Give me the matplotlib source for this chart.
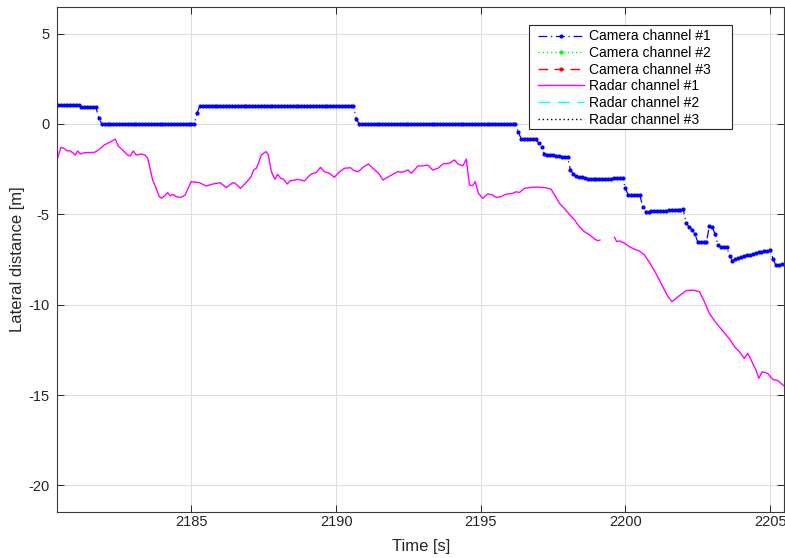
import numpy as np
import matplotlib
matplotlib.use("Agg")
import matplotlib.pyplot as plt
from matplotlib.patches import Rectangle

plt.rcParams['font.family'] = ['Liberation Sans', 'DejaVu Sans']
plt.rcParams['axes.unicode_minus'] = False

# ---------------- data ----------------
x_ticks = [2185, 2190, 2195, 2200, 2205]
y_ticks = [-20, -15, -10, -5, 0, 5]
x_limits = [2180.37, 2205.48]
y_limits = [-21.47, 6.49]

camera1_t0 = 2180.4
camera1_dt = 0.1
camera1_v = [
    1.05, 1.05, 1.05, 1.05, 1.05, 1.05, 1.05, 1.05,
    0.93, 0.93, 0.93, 0.93, 0.93, 0.93,
    0.33,
    0.0, 0.0, 0.0, 0.0, 0.0, 0.0, 0.0, 0.0, 0.0, 0.0, 0.0,
    0.0, 0.0, 0.0, 0.0, 0.0, 0.0, 0.0, 0.0, 0.0, 0.0, 0.0,
    0.0, 0.0, 0.0, 0.0, 0.0, 0.0, 0.0, 0.0, 0.0, 0.0, 0.0,
    0.63,
    1.02, 1.02, 1.02, 1.02, 1.02, 1.02, 1.02, 1.02, 1.02,
    1.02, 1.02, 1.02, 1.02, 1.02, 1.02, 1.02, 1.02, 1.02,
    1.02, 1.02, 1.02, 1.02, 1.02, 1.02, 1.02, 1.02, 1.02,
    1.01, 1.01, 1.01, 1.01, 1.01, 1.01, 1.01, 1.01, 1.01,
    1.01, 1.01, 1.01, 1.01, 1.01, 1.01, 1.01, 1.01, 1.01,
    1.00, 1.00, 1.00, 1.00, 1.00, 1.00, 1.00, 1.00, 1.00,
    0.28,
    0.0, 0.0, 0.0, 0.0, 0.0, 0.0, 0.0, 0.0, 0.0, 0.0, 0.0,
    0.0, 0.0, 0.0, 0.0, 0.0, 0.0, 0.0, 0.0, 0.0, 0.0, 0.0,
    0.0, 0.0, 0.0, 0.0, 0.0, 0.0, 0.0, 0.0, 0.0, 0.0, 0.0,
    0.0, 0.0, 0.0, 0.0, 0.0, 0.0, 0.0, 0.0, 0.0, 0.0, 0.0,
    0.0, 0.0, 0.0, 0.0, 0.0, 0.0, 0.0, 0.0, 0.0, 0.0, 0.0,
    -0.45,
    -0.83, -0.83, -0.83, -0.83, -0.83, -0.83,
    -1.07, -1.26,
    -1.68, -1.70, -1.72, -1.74, -1.76, -1.78, -1.80, -1.82, -1.85,
    -2.55, -2.75,
    -2.86, -2.92, -2.96, -3.00, -3.03,
    -3.05, -3.05, -3.04, -3.04, -3.03, -3.03, -3.02, -3.02, -3.01, -3.01, -3.00, -3.00,
    -3.55,
    -3.94, -3.94, -3.94, -3.94, -3.94,
    -4.58,
    -4.86, -4.85, -4.84, -4.83, -4.82, -4.81, -4.80, -4.79, -4.78, -4.77, -4.76, -4.75, -4.74, -4.73,
    -5.50, -5.69, -5.85, -6.10,
    -6.52, -6.52, -6.52, -6.52,
    -5.65, -5.69, -6.10, -6.70,
    -6.80, -6.80, -6.80,
    -7.30, -7.58,
    -7.45, -7.40, -7.35, -7.31, -7.27, -7.23, -7.19, -7.15, -7.11, -7.08, -7.05, -7.02, -6.98,
    -7.45, -7.82,
    -7.78, -7.76, -7.76,
]

radar1_t = [
    2180.37, 2180.49, 2180.60, 2180.70, 2180.80, 2180.90, 2180.98, 2181.07, 2181.16, 2181.30,
    2181.65, 2181.82, 2181.99, 2182.16, 2182.31, 2182.37, 2182.47, 2182.62, 2182.80, 2182.89,
    2182.99, 2183.09, 2183.26, 2183.40, 2183.49, 2183.66, 2183.78, 2183.89, 2183.97, 2184.07,
    2184.18, 2184.27, 2184.35, 2184.47, 2184.64, 2184.78, 2184.99, 2185.28, 2185.51, 2185.74,
    2186.00, 2186.20, 2186.43, 2186.51, 2186.70, 2186.89, 2187.06, 2187.15, 2187.24, 2187.32,
    2187.41, 2187.52, 2187.58, 2187.66, 2187.75, 2187.81, 2187.89, 2187.98, 2188.08, 2188.19,
    2188.31, 2188.42, 2188.58, 2188.67, 2188.91, 2189.02, 2189.14, 2189.31, 2189.46, 2189.60,
    2189.77, 2189.94, 2190.12, 2190.29, 2190.50, 2190.61, 2190.77, 2190.96, 2191.12, 2191.27,
    2191.47, 2191.62, 2191.85, 2192.13, 2192.30, 2192.48, 2192.60, 2192.83, 2193.00, 2193.17,
    2193.34, 2193.52, 2193.69, 2193.92, 2194.09, 2194.21, 2194.38, 2194.50, 2194.61, 2194.72,
    2194.81, 2194.92, 2195.07, 2195.24, 2195.41, 2195.53, 2195.70, 2195.87, 2196.10, 2196.22,
    2196.34, 2196.51, 2196.74, 2196.92, 2197.20, 2197.43, 2197.55, 2197.72, 2197.89, 2198.06,
    2198.24, 2198.41, 2198.58, 2198.76, 2198.93, 2199.04, 2199.12, 2199.35, 2199.62, 2199.70,
    2199.79, 2199.97, 2200.14, 2200.31, 2200.49, 2200.66, 2200.83, 2201.03, 2201.29, 2201.46,
    2201.61, 2201.75, 2201.92, 2202.10, 2202.33, 2202.56, 2202.73, 2202.90, 2203.13, 2203.36,
    2203.60, 2203.77, 2203.94, 2204.11, 2204.23, 2204.40, 2204.52, 2204.61, 2204.73, 2204.92,
    2205.09, 2205.27, 2205.44, 2205.55,
]
radar1_v = [
    -1.90, -1.29, -1.35, -1.48, -1.48, -1.59, -1.72, -1.49, -1.66, -1.59,
    -1.57, -1.40, -1.16, -1.03, -0.89, -0.83, -1.22, -1.44, -1.72, -1.77,
    -1.49, -1.72, -1.66, -1.72, -1.90, -3.10, -3.56, -4.02, -4.11, -3.98,
    -3.80, -3.98, -3.89, -4.02, -4.06, -3.93, -3.19, -3.25, -3.43, -3.32,
    -3.25, -3.52, -3.25, -3.28, -3.56, -3.25, -2.92, -2.55, -2.45, -2.17,
    -1.72, -1.59, -1.53, -1.72, -2.55, -2.82, -3.06, -2.78, -3.00, -3.06,
    -3.32, -3.14, -3.10, -3.06, -3.15, -2.95, -2.77, -2.69, -2.40, -2.64,
    -2.73, -2.95, -2.64, -2.45, -2.42, -2.58, -2.64, -2.36, -2.21, -2.45,
    -2.73, -3.10, -2.88, -2.64, -2.67, -2.55, -2.73, -2.32, -2.32, -2.27,
    -2.55, -2.45, -2.21, -2.17, -1.99, -2.21, -2.31, -1.94, -3.38, -3.41,
    -3.19, -3.84, -4.11, -3.87, -3.93, -4.06, -4.02, -3.89, -3.84, -3.75,
    -3.79, -3.56, -3.51, -3.49, -3.52, -3.60, -3.93, -4.39, -4.67, -5.00,
    -5.31, -5.69, -5.96, -6.14, -6.36, -6.46, -6.42, np.nan, -6.27, -6.51,
    -6.47, -6.60, -6.79, -6.93, -7.03, -7.25, -7.66, -8.20, -9.00, -9.52,
    -9.83, -9.65, -9.43, -9.22, -9.19, -9.28, -9.83, -10.48, -11.00, -11.44,
    -11.90, -12.32, -12.60, -12.97, -12.69, -13.24, -13.65, -14.07, -13.71, -13.80,
    -14.13, -14.20, -14.44, -14.55,
]

# channels without data in this interval (legend only)
camera2_t, camera2_v = [], []
camera3_t, camera3_v = [], []
radar2_t, radar2_v = [], []
radar3_t, radar3_v = [], []

labels = ['Camera channel #1', 'Camera channel #2', 'Camera channel #3',
          'Radar channel #1', 'Radar channel #2', 'Radar channel #3']

camera1_t = camera1_t0 + camera1_dt * np.arange(len(camera1_v))

# ---------------- figure ----------------
fig = plt.figure(figsize=(7.85, 5.58), dpi=100)
ax = fig.add_axes([0.0732, 0.0824, 0.9255, 0.9056])

axis_col = '#262626'

h1, = ax.plot(camera1_t, camera1_v, linestyle=(0, (7, 3, 1, 3)), color=(0, 0, 1),
              marker='.', markersize=4, linewidth=0.9, label=labels[0])
h2, = ax.plot(camera2_t, camera2_v, linestyle=(0, (1, 2)), color=(0, 1, 0),
              marker='.', markersize=4, linewidth=1.0, label=labels[1])
h3, = ax.plot(camera3_t, camera3_v, linestyle=(0, (7, 4.5)), color=(1, 0, 0),
              marker='.', markersize=4, linewidth=1.0, label=labels[2])
h4, = ax.plot(radar1_t, radar1_v, linestyle='-', color=(1, 0, 1),
              linewidth=1.0, label=labels[3])
h5, = ax.plot(radar2_t, radar2_v, linestyle=(0, (8.5, 5.5)), color=(0, 1, 1),
              linewidth=1.0, label=labels[4])
h6, = ax.plot(radar3_t, radar3_v, linestyle=(0, (1, 2)), color=(0, 0, 0),
              linewidth=1.0, label=labels[5])

ax.set_xlim(x_limits)
ax.set_ylim(y_limits)
ax.set_xticks(x_ticks)
ax.set_yticks(y_ticks)

ax.grid(True, color='#dedede', linewidth=0.8)
ax.set_axisbelow(True)
ax.tick_params(direction='in', length=5, width=0.7, colors=axis_col,
               top=True, right=True, labelsize=10.5)
ax.tick_params(axis='y', pad=6)
ax.tick_params(axis='x', pad=2)
for s in ax.spines.values():
    s.set_color('#3a3a3a')
    s.set_linewidth(0.8)

ax.set_xlabel('Time [s]', fontsize=12, color=axis_col, labelpad=7.5)
ax.set_ylabel('Lateral distance [m]', fontsize=12, color=axis_col, labelpad=2)

# legend frame (drawn separately so its extent matches the original box)
frame = Rectangle((0.6490, 0.7580), 0.9284 - 0.6490, 0.9638 - 0.7580,
                  transform=ax.transAxes, facecolor='white',
                  edgecolor='#262626', linewidth=0.8, zorder=4.5)
ax.add_patch(frame)

leg = ax.legend(handles=[h1, h2, h3, h4, h5, h6], loc='upper left',
                bbox_to_anchor=(0.6614, 0.955), borderaxespad=0,
                fontsize=10, numpoints=1, handlelength=3.3, handletextpad=0.4,
                labelspacing=0.19, borderpad=0.0, frameon=False)
leg.set_zorder(5)

fig.savefig('out.png', dpi=100)
